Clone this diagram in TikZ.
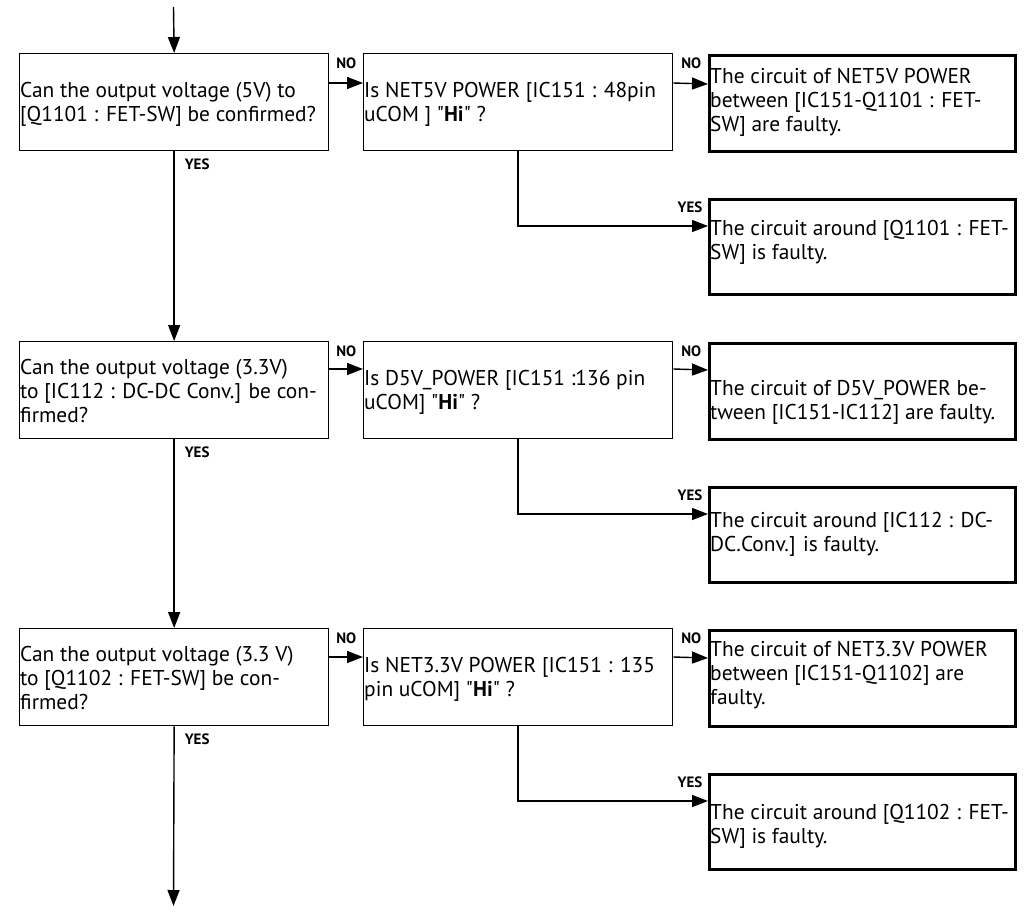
\documentclass[tikz,border=0pt]{standalone}
\usepackage{fontspec}
\setmainfont{PT Sans}[Ligatures=TeXOff]
\usetikzlibrary{arrows.meta}
\begin{document}
\begin{tikzpicture}[x=1pt,y=-1pt,
  qbox/.style={draw, line width=1.3pt, inner sep=0pt, anchor=north west},
  rbox/.style={draw, line width=2.8pt, inner sep=0pt, anchor=north west},
  conn/.style={line width=1.4pt},
  arr/.style={conn, -{Triangle[length=16pt,width=12pt]}},
  txt/.style={anchor=north west, inner sep=0pt, align=left, font=\fontsize{21.4}{24}\selectfont},
  lbl/.style={inner sep=0pt, font=\bfseries\fontsize{15}{15}\selectfont}]
\useasboundingbox (0,0) rectangle (1031,913);
% boxes
\foreach \r/\T in {1/53,2/341,3/628}{
  \node[qbox, minimum width=309pt, minimum height=97pt] (L\r) at (19,\T) {};
  \node[qbox, minimum width=309pt, minimum height=97pt] (M\r) at (363,\T) {};
  \node[rbox, minimum width=306pt, minimum height=96pt] (A\r) at (708,\T+1) {};
  \node[rbox, minimum width=306pt, minimum height=95pt] (B\r) at (708,\T+145) {};
}
\coordinate (start) at (173.5,7);
\coordinate (finish) at (173.5,906);
% texts
\node[txt] (tL1) at (20,80.2) {\strut Can the output voltage (5V) to\\ {}[Q1101 : FET-SW] be confirmed?};
\node[txt] (tM1) at (364,80.2) {\strut Is NET5V POWER [IC151 : 48pin\\ uCOM ] "\textbf{Hi}" ?};
\node[txt] (tA1) at (710,66.2) {\strut The circuit of NET5V POWER\\ between [IC151-Q1101 : FET-\\ SW] are faulty.};
\node[txt] (tB1) at (710,218.2) {\strut The circuit around [Q1101 : FET-\\ SW] is faulty.};
\node[txt] (tL2) at (20,357.2) {\strut Can the output voltage (3.3V)\\ to [IC112 : DC-DC Conv.] be con-\\ firmed?};
\node[txt] (tM2) at (364,368.2) {\strut Is D5V\_POWER [IC151 :136 pin\\ uCOM] "\textbf{Hi}" ?};
\node[txt] (tA2) at (710,378.2) {\strut The circuit of D5V\_POWER be-\\ tween [IC151-IC112] are faulty.};
\node[txt] (tB2) at (710,510.2) {\strut The circuit around [IC112 : DC-\\ DC.Conv.] is faulty.};
\node[txt] (tL3) at (20,644.2) {\strut Can the output voltage (3.3 V)\\ to [Q1102 : FET-SW] be con-\\ firmed?};
\node[txt] (tM3) at (364,655.2) {\strut Is NET3.3V POWER [IC151 : 135\\ pin uCOM] "\textbf{Hi}" ?};
\node[txt] (tA3) at (710,639.2) {\strut The circuit of NET3.3V POWER\\ between [IC151-Q1102] are\\ faulty.};
\node[txt] (tB3) at (710,802.2) {\strut The circuit around [Q1102 : FET-\\ SW] is faulty.};
% connectors
\draw[arr] (start) -- (L1.north);
\draw[arr] (L1.south) -- (L2.north);
\draw[arr] (L2.south) -- (L3.north);
\draw[arr] (L3.south) -- (finish);
\foreach \r/\d in {1/30,2/28,3/29}{
  \draw[arr] ([yshift=-\d pt]L\r.north east) -- ([yshift=-\d pt]M\r.north west);
  \draw[arr] ([yshift=-\d pt]M\r.north east) -- ([yshift=-\d pt]A\r.north west);
  \draw[arr] (M\r.south) |- ([yshift=-28pt]B\r.north west);
  \node[lbl] (nL\r) at ([xshift=17pt,yshift=-10pt]L\r.north east) {NO};
  \node[lbl] (nM\r) at ([xshift=18pt,yshift=-10pt]M\r.north east) {NO};
  \node[lbl] (yM\r) at ([xshift=-18pt,yshift=-9pt]B\r.north west) {YES};
  \node[lbl] (yL\r) at ([xshift=23pt,yshift=-13pt]L\r.south) {YES};
}
\end{tikzpicture}
\end{document}
